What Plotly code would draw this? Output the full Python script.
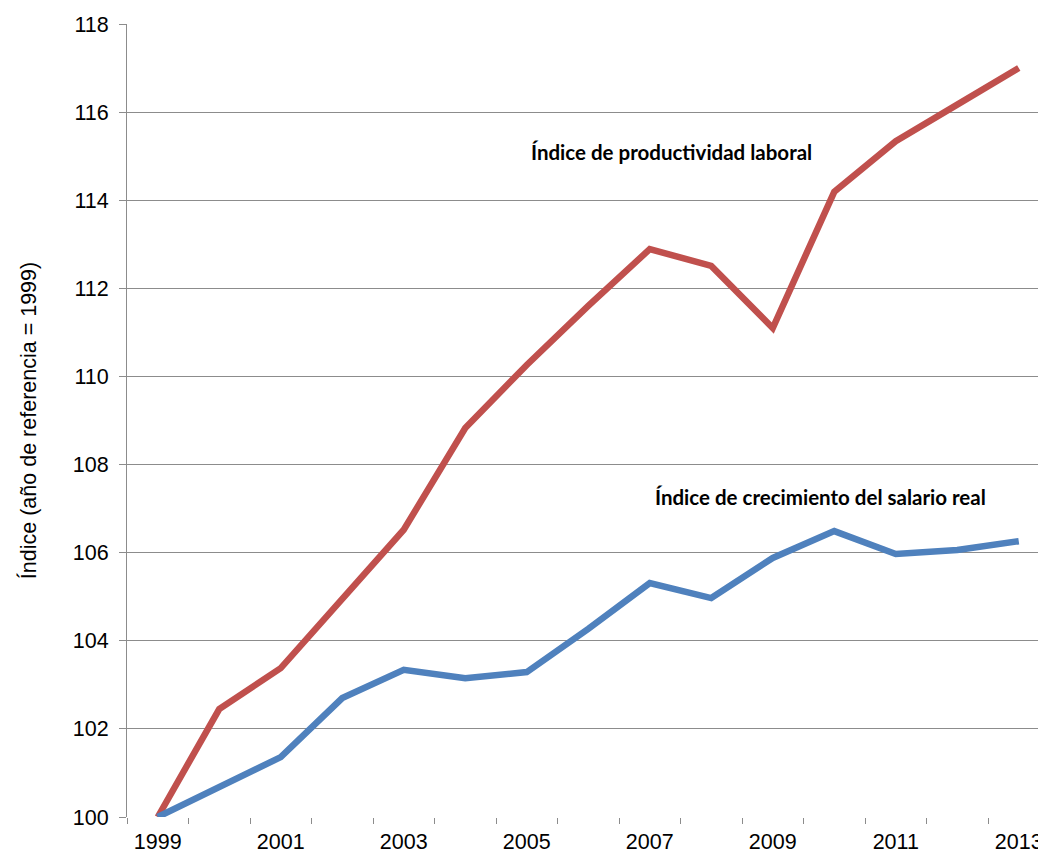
import plotly.graph_objects as go

years = list(range(1999, 2014))
productividad = [100.0, 102.45, 103.38, 104.95, 106.52, 108.83, 110.26, 111.6, 112.89, 112.51, 111.1, 114.19, 115.34, 116.17, 117.0]
salario = [100.0, 100.68, 101.36, 102.7, 103.34, 103.15, 103.29, 104.27, 105.31, 104.97, 105.88, 106.49, 105.97, 106.06, 106.26]

x_tick_vals = [1999, 2001, 2003, 2005, 2007, 2009, 2011, 2013]
x_tick_text = ["1999", "2001", "2003", "2005", "2007", "2009", "2011", "2013"]
x_boundaries = [y - 0.5 for y in years] + [2013.5]
y_tick_vals = [100, 102, 104, 106, 108, 110, 112, 114, 116, 118]

label_prod = "Índice de productividad laboral"
label_sal = "Índice de crecimiento del salario real"
y_title = "Índice (año de referencia = 1999)"

grid = "#8c8c8c"
fs = 21.5
fig = go.Figure()
fig.add_trace(go.Scatter(x=years, y=productividad, mode="lines",
                         line=dict(color="#C0504D", width=6.5), name=label_prod))
fig.add_trace(go.Scatter(x=years, y=salario, mode="lines",
                         line=dict(color="#4F81BD", width=6.5), name=label_sal))

fig.add_annotation(x=2007.35, y=115.09, xref="x", yref="y", text="<b>" + label_prod + "</b>",
                   showarrow=False, font=dict(family="Lato", size=20.5, color="black"))
fig.add_annotation(x=2009.77, y=107.26, xref="x", yref="y", text="<b>" + label_sal + "</b>",
                   showarrow=False, font=dict(family="Lato", size=20.5, color="black"))

fig.update_layout(
    width=1038, height=846,
    margin=dict(l=119, r=0, t=16, b=37),
    plot_bgcolor="white", paper_bgcolor="white",
    showlegend=False,
    font=dict(family="Liberation Sans, Arial", size=fs, color="black"),
    xaxis=dict(range=[1998.5, 2013.443], tickmode="array", tickvals=x_tick_vals,
               ticktext=x_tick_text, ticks="outside", ticklen=5,
               tickcolor="rgba(0,0,0,0)", showgrid=False, zeroline=False,
               showline=False,
               minor=dict(tickmode="array", tickvals=x_boundaries, ticks="outside",
                          ticklen=6, tickcolor=grid, tickwidth=1, showgrid=False),
               tickfont=dict(size=fs)),
    yaxis=dict(range=[100, 118], tickmode="array", tickvals=y_tick_vals,
               ticks="outside", ticklen=7, tickcolor=grid, tickwidth=1,
               showgrid=True, gridcolor=grid, gridwidth=1, zeroline=False,
               showline=True, linecolor=grid, linewidth=1,
               ticklabelstandoff=6,
               title=dict(text=y_title, font=dict(size=fs), standoff=30),
               tickfont=dict(size=fs)),
)

fig.write_html("out.html")
